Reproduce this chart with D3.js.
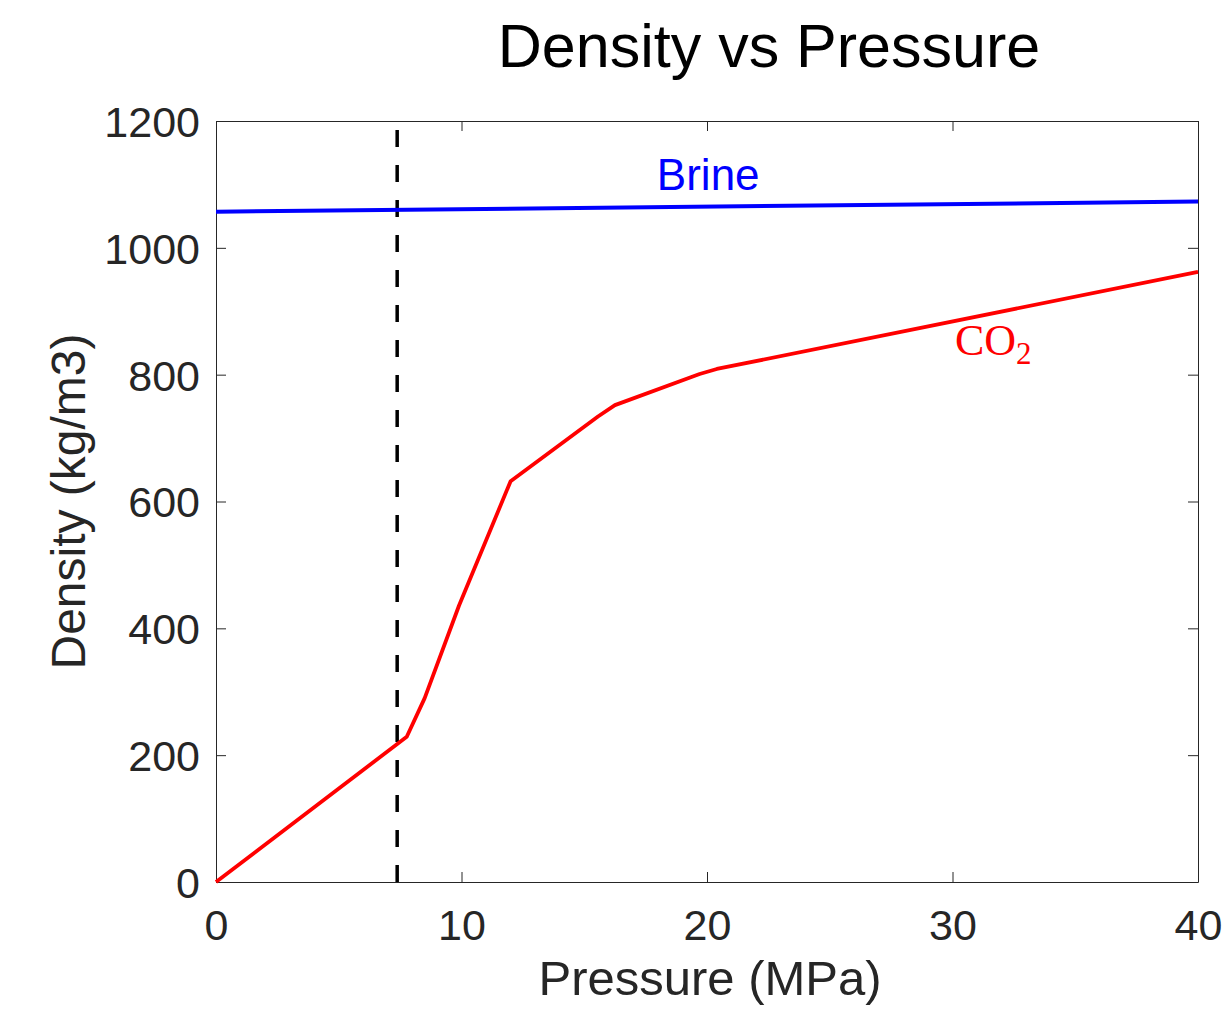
<!DOCTYPE html>
<html>
<head>
<meta charset="utf-8">
<script src="https://cdn.jsdelivr.net/npm/d3@7"></script>
<style>
  body { margin: 0; background: #fff; }
  svg { display: block; font-family: "Liberation Sans", Arial, sans-serif; }
</style>
</head>
<body>
<svg id="chart"></svg>
<script>
const pressureTicks = [0, 10, 20, 30, 40];
const densityTicks = [0, 200, 400, 600, 800, 1000, 1200];

const brinePressure = [0, 40];
const brineDensity = [1057, 1073];

const co2Pressure = [0, 7.77, 8.5, 9.9, 12, 15.56, 16.25, 19.7, 20.4, 40];
const co2Density = [0, 229, 290, 436, 632, 734, 752, 801, 809, 962];

const criticalPressure = 7.38;

const w = 1228;
const h = 1023;
const plotLeft = 216, plotRight = 1198, plotTop = 121, plotBottom = 882;
const axisColor = "#262626";

const svg = d3.select("#chart")
    .attr("width", w)
    .attr("height", h);

const xScale = d3.scaleLinear()
    .domain([0, 40])
    .range([plotLeft, plotRight]);

const yScale = d3.scaleLinear()
    .domain([0, 1200])
    .range([plotBottom, plotTop]);

const line = d3.line()
    .x(d => xScale(d[0]))
    .y(d => yScale(d[1]));

// axes with inward ticks, mirrored on top/right
const xAxis = d3.axisBottom(xScale).tickValues(pressureTicks).tickFormat(d3.format("d"))
    .tickSizeInner(-10).tickSizeOuter(0).tickPadding(27);
const yAxis = d3.axisLeft(yScale).tickValues(densityTicks).tickFormat(d3.format("d"))
    .tickSizeInner(-10).tickSizeOuter(0).tickPadding(16);

const gx = svg.append("g")
    .attr("transform", `translate(0,${plotBottom})`)
    .call(xAxis);
const gy = svg.append("g")
    .attr("transform", `translate(${plotLeft},0)`)
    .call(yAxis);
const gxTop = svg.append("g")
    .attr("transform", `translate(0,${plotTop})`)
    .call(d3.axisTop(xScale).tickValues(pressureTicks).tickSizeInner(-10).tickSizeOuter(0).tickFormat(""));
const gyRight = svg.append("g")
    .attr("transform", `translate(${plotRight},0)`)
    .call(d3.axisRight(yScale).tickValues(densityTicks).tickSizeInner(-10).tickSizeOuter(0).tickFormat(""));

[gx, gy, gxTop, gyRight].forEach(g => {
    g.selectAll("path, line").attr("stroke", axisColor).attr("stroke-width", 1);
    g.selectAll("text").attr("fill", axisColor).attr("font-size", 43)
        .attr("font-family", "Liberation Sans, Arial, sans-serif");
});
gy.selectAll("text").attr("dy", "0.36em");

// critical pressure line
svg.append("path")
    .datum([[criticalPressure, 0], [criticalPressure, 1200]])
    .attr("d", line)
    .attr("fill", "none")
    .attr("stroke", "#000")
    .attr("stroke-width", 3.5)
    .attr("stroke-dasharray", "17,18");

svg.append("path")
    .datum(brinePressure.map((p, i) => [p, brineDensity[i]]))
    .attr("d", line)
    .attr("fill", "none")
    .attr("stroke", "#0000ff")
    .attr("stroke-width", 4);

svg.append("path")
    .datum(co2Pressure.map((p, i) => [p, co2Density[i]]))
    .attr("d", line)
    .attr("fill", "none")
    .attr("stroke", "#ff0000")
    .attr("stroke-width", 3.8)
    .attr("stroke-linejoin", "round");

// labels
svg.append("text")
    .attr("x", xScale(20.05))
    .attr("y", yScale(1091))
    .attr("text-anchor", "middle")
    .attr("font-size", 44)
    .attr("fill", "#0000ff")
    .text("Brine");

const co2 = svg.append("text")
    .attr("x", xScale(30.1))
    .attr("y", yScale(831))
    .attr("font-family", "Liberation Serif, Times New Roman, serif")
    .attr("font-size", 44)
    .attr("fill", "#ff0000");
co2.append("tspan").text("CO");
co2.append("tspan").attr("font-size", 31).attr("dy", 9).text("2");

svg.append("text")
    .attr("x", 769)
    .attr("y", 67)
    .attr("text-anchor", "middle")
    .attr("font-size", 61)
    .attr("fill", "#000")
    .text("Density vs Pressure");

svg.append("text")
    .attr("x", (plotLeft + plotRight) / 2 + 3)
    .attr("y", 995)
    .attr("text-anchor", "middle")
    .attr("font-size", 49)
    .attr("fill", axisColor)
    .text("Pressure (MPa)");

svg.append("text")
    .attr("transform", "rotate(-90)")
    .attr("x", -(plotTop + plotBottom) / 2)
    .attr("y", 85)
    .attr("text-anchor", "middle")
    .attr("font-size", 48)
    .attr("fill", axisColor)
    .text("Density (kg/m3)");
</script>
</body>
</html>
